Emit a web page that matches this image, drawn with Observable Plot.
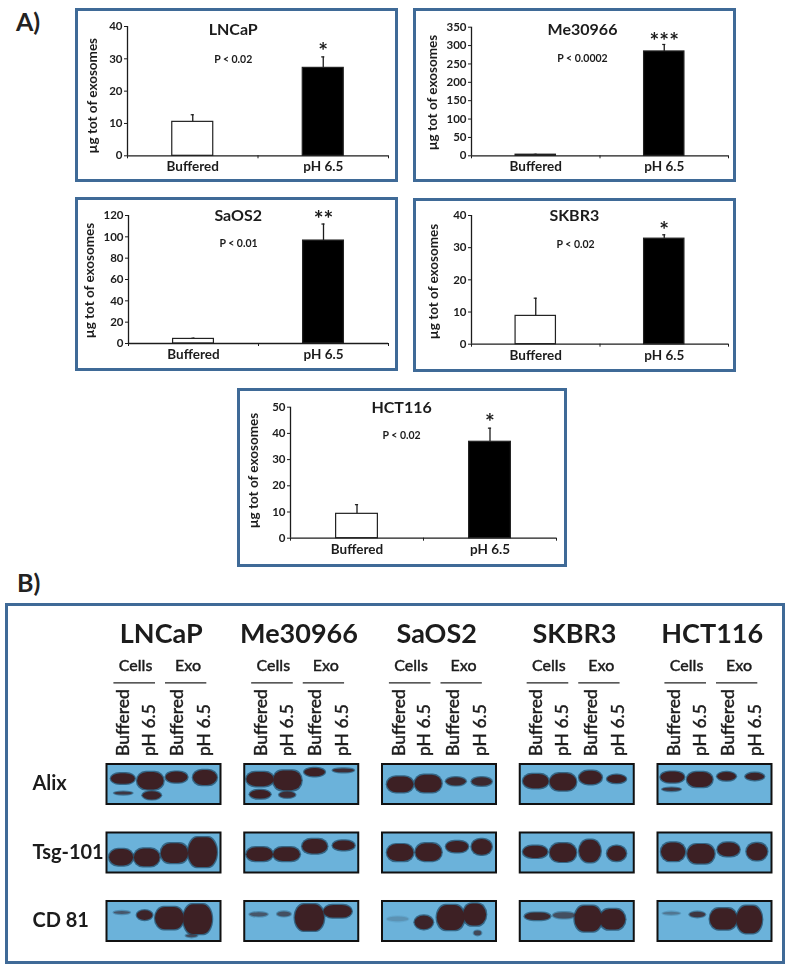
<!DOCTYPE html>
<html>
<head>
<meta charset="utf-8">
<script src="https://cdn.jsdelivr.net/npm/d3@7"></script>
<script src="https://cdn.jsdelivr.net/npm/@observablehq/plot@0.6"></script>
<style>
  html, body { margin: 0; padding: 0; background: #fff; }
  #page { position: relative; width: 794px; height: 970px; overflow: hidden; font-family: Lato, "Open Sans", sans-serif; color: #1c1c1c; }
  #page svg { position: absolute; background: transparent; overflow: visible; filter: blur(0.3px); }
  .box { position: absolute; box-sizing: border-box; border: 3px solid #3f6a97; }
  .tag { position: absolute; font: 700 25px Lato, sans-serif; color: #222; }
  g[aria-label="band"] { filter: blur(1.1px); }
  g[aria-label="halo"] { filter: blur(2px); }
</style>
</head>
<body>
<div id="page"></div>
<script>
// ---------- Panel A data ----------
const conditions = ["Buffered", "pH 6.5"];
const barCells = ["LNCaP", "Me30966", "SaOS2", "SKBR3", "HCT116"];
const bufferedMeans = [10.5, 3, 4.3, 8.8, 9.3];
const bufferedTops = [12.7, 4, 5, 14.3, 12.8];
const ph65Means = [27.2, 284, 96.5, 32.8, 36.8];
const ph65Tops = [30.6, 303, 112, 34, 42];
const yMaxes = [40, 350, 120, 40, 50];
const yTicks = [
  [0, 10, 20, 30, 40],
  [0, 50, 100, 150, 200, 250, 300, 350],
  [0, 20, 40, 60, 80, 100, 120],
  [0, 10, 20, 30, 40],
  [0, 10, 20, 30, 40, 50]
];
const pLabels = ["P < 0.02", "P < 0.0002", "P < 0.01", "P < 0.02", "P < 0.02"];
const stars = ["*", "***", "**", "*", "*"];
const yTitle = "µg tot of exosomes";

// ---------- Panel B data ----------
const blotCells = ["LNCaP", "Me30966", "SaOS2", "SKBR3", "HCT116"];
const targets = ["Alix", "Tsg-101", "CD 81"];
const groups = ["Cells", "Exo"];
const lanes = ["Buffered", "pH 6.5", "Buffered", "pH 6.5"];
// bands: [lane from, lane to, top, bottom, density]  (lanes 0-4, height 0-1 of the film)
const lncapBands = [
  [[.18,1.0,.25,.5,1],[1.1,2.01,.22,.64,1],[2.1,2.85,.21,.47,1],[3.06,3.88,.17,.53,1],[.29,.92,.71,.77,.75],[1.29,1.92,.7,.89,.95]],
  [[.12,.94,.43,.83,1],[.99,1.87,.42,.85,1],[1.93,2.87,.29,.77,1],[2.89,3.88,.14,.87,1]],
  [[.28,.83,.27,.33,.5],[1.09,1.62,.25,.48,.95],[1.73,2.72,.17,.71,1],[2.72,3.71,.1,.83,1],[2.81,3.19,.85,.91,.6]]
];
const meBands = [
  [[.1,1.04,.22,.56,1],[1.04,2.02,.18,.66,1],[2.13,2.84,.12,.31,1],[3.13,3.86,.13,.21,.85],[.22,.93,.67,.87,1],[1.25,1.8,.71,.85,.85]],
  [[.1,1.01,.39,.72,1],[1.04,1.96,.39,.72,1],[2.06,2.92,.18,.53,1],[3.13,3.88,.22,.45,1]],
  [[.21,.83,.3,.39,.5],[1.18,1.64,.28,.39,.55],[1.8,2.81,.1,.75,1],[2.81,3.78,.12,.42,1]]
];
const saosBands = [
  [[.2,1.11,.33,.71,1],[1.17,2.1,.29,.71,1],[2.27,2.95,.35,.54,.9],[3.17,3.86,.35,.55,.9]],
  [[.2,1.11,.31,.72,1],[1.2,2.1,.29,.72,1],[2.27,3.03,.23,.5,1],[3.17,3.86,.18,.56,1]],
  [[.2,.93,.41,.51,.15],[1.17,1.8,.38,.71,.95],[1.95,2.9,.12,.73,1],[2.87,3.66,.08,.62,1],[3.25,3.49,.76,.86,.6]]
];
const skbrBands = [
  [[.14,1.02,.27,.61,1],[1.08,1.99,.25,.67,1],[2.11,2.89,.19,.51,1],[3.09,3.74,.29,.48,1]],
  [[.14,.98,.35,.64,1],[1.08,1.99,.29,.74,1],[2.11,2.85,.2,.75,1],[3.09,3.74,.35,.72,1]],
  [[.2,1.08,.31,.48,.9],[1.19,1.95,.3,.44,.55],[1.95,2.89,.14,.77,1],[2.83,3.71,.22,.72,1]]
];
const hctBands = [
  [[.13,.95,.21,.47,1],[1.06,1.94,.22,.58,1],[2.12,2.76,.22,.42,1],[3.11,3.75,.24,.41,.95],[.19,.83,.61,.68,.8]],
  [[.15,.98,.27,.72,1],[1.07,2.01,.31,.78,1],[2.13,2.89,.27,.6,1],[3.15,3.86,.28,.7,1]],
  [[.21,.8,.29,.35,.3],[1.15,1.68,.29,.41,.75],[1.86,2.8,.2,.72,1],[2.8,3.68,.14,.81,1]]
];
const blotBands = [lncapBands, meBands, saosBands, skbrBands, hctBands];

// ---------- Layout (separate from the data) ----------
const boxes = [ // left, top, width, height of each framed panel
  [75, 8, 323, 174], [413, 8, 323, 174], [75, 197, 323, 174], [413, 198, 323, 174], [237, 388, 330, 179]
];
const axes = [ // left, right, top, bottom of each plot area
  [127, 388, 26, 155.3], [471, 728, 26.7, 155.3], [128, 388, 215, 343], [471, 728, 215, 343.7], [290, 556, 406.7, 537.7]
];
const titleAt = [[.81, 39.1], [.864, 344], [.844, 120], [.80, 39.8], [.835, 49.8]];
const pAt = [[.81, 29.7], [.864, 265.6], [.846, 94], [.81, 31], [.835, 39.2]];
const starAt = [[1.5, 35], [1.5, 335], [1.5, 125], [1.5, 38], [1.5, 47.6]];
const yTitleAt = [[-.27, 18.6], [-.306, 172], [-.298, 59], [-.295, 19.5], [-.278, 25.8]];
const barHalf = 0.157;
const FONT = "Lato, 'Open Sans', sans-serif";
const INK = "#1c1c1c";

const page = document.getElementById("page");
function addBox(l, t, w, h) {
  const d = document.createElement("div");
  d.className = "box";
  Object.assign(d.style, {left: l + "px", top: t + "px", width: w + "px", height: h + "px"});
  page.appendChild(d);
}
function addTag(text, l, t) {
  const d = document.createElement("div");
  d.className = "tag";
  d.textContent = text;
  Object.assign(d.style, {left: l + "px", top: t + "px"});
  page.appendChild(d);
}
addTag("A)", 16, 6);
addTag("B)", 17, 567);

// ---------- Panel A ----------
barCells.forEach((cell, i) => {
  const [bl, bt, bw, bh] = boxes[i];
  const [al, ar, at, ab] = axes[i];
  addBox(bl, bt, bw, bh);
  const rows = conditions.map((c, k) => ({
    condition: c,
    center: k + 0.5,
    mean: k ? ph65Means[i] : bufferedMeans[i],
    top: k ? ph65Tops[i] : bufferedTops[i]
  }));
  const chart = Plot.plot({
    width: bw, height: bh,
    marginLeft: al - bl, marginRight: bl + bw - ar,
    marginTop: at - bt, marginBottom: bt + bh - ab,
    style: {fontFamily: FONT, color: INK, background: "transparent"},
    x: {domain: [0, 2], axis: null},
    y: {domain: [0, yMaxes[i]], axis: null},
    marks: [
      Plot.ruleX(rows, {x: "center", y1: "mean", y2: "top", stroke: INK, strokeWidth: 1.3}),
      Plot.ruleY(rows, {y: "top", x1: d => d.center - 0.012, x2: d => d.center + 0.012, stroke: INK, strokeWidth: 1.2}),
      Plot.rectY(rows, {
        x1: d => d.center - barHalf, x2: d => d.center + barHalf, y1: 0, y2: "mean",
        fill: d => d.center > 1 ? "#000" : "#fff", stroke: "#222", strokeWidth: 1.2
      }),
      Plot.ruleX([0], {stroke: INK, strokeWidth: 1.3}),
      Plot.ruleY([0], {stroke: INK, strokeWidth: 1.3}),
      Plot.axisY({ticks: yTicks[i], tickSize: 3, tickPadding: 2, label: null, stroke: INK, fontSize: 11.5, fontWeight: 700, fontFamily: FONT, tickFormat: d => d}),
      Plot.axisX({ticks: [0, 1, 2], tickSize: 3, tickFormat: () => "", label: null, stroke: INK}),
      Plot.axisX({ticks: rows.map(d => d.center), tickSize: 0, tickPadding: 6, tickFormat: d => conditions[d - 0.5], label: null, fontSize: 13.5, fontWeight: 700, fontFamily: FONT}),
      Plot.text([cell], {x: titleAt[i][0], y: titleAt[i][1], text: d => d, fontSize: 16, fontWeight: 700, fontFamily: FONT, fill: INK}),
      Plot.text([pLabels[i]], {x: pAt[i][0], y: pAt[i][1], text: d => d, fontSize: 10.5, fontWeight: 700, fontFamily: FONT, fill: INK}),
      Plot.text([stars[i]], {x: starAt[i][0], y: starAt[i][1], text: d => d, fontSize: 23, fontWeight: 700, fontFamily: FONT, fill: INK, lineAnchor: "top"}),
      Plot.text([yTitle], {x: yTitleAt[i][0], y: yTitleAt[i][1], text: d => d, rotate: -90, fontSize: 13.5, fontWeight: 700, fontFamily: FONT, fill: INK})
    ]
  });
  chart.style.left = bl + "px";
  chart.style.top = bt + "px";
  page.appendChild(chart);
});

// ---------- Panel B ----------
addBox(5, 603, 780, 361);
const bandRows = blotCells.flatMap((cell, c) => targets.flatMap((target, t) =>
  blotBands[c][t].map(([x1, x2, y1, y2, a]) => ({cell, target, x1, x2, y1, y2, a}))));
const topRow = blotCells.map(cell => ({cell, target: targets[0]}));
const laneRows = topRow.flatMap(r => lanes.map((lane, k) => ({...r, lane, k})));
const groupRows = topRow.flatMap(r => groups.map((group, k) => ({...r, group, k})));
const laneX = [0.6, 1.5, 2.5, 3.45];
const groupSpan = [[.26, 1.72], [2.07, 3.52]];
const groupX = [1.02, 2.86];
const textB = {fontFamily: FONT, fill: INK};
const semi = {stroke: INK, strokeWidth: 0.35};
const bandGeom = {fx: "cell", fy: "target", x1: "x1", x2: "x2", y1: "y1", y2: "y2"};

const blot = Plot.plot({
  width: 794, height: 365,
  marginLeft: 106, marginRight: 23, marginTop: 163.5, marginBottom: 24.5,
  style: {fontFamily: FONT, color: INK, background: "transparent"},
  fx: {domain: blotCells, axis: null, paddingInner: 0.1724, paddingOuter: 0, round: false},
  fy: {domain: targets, axis: null, paddingInner: 0.416, paddingOuter: 0, round: false},
  x: {domain: [0, 4], axis: null},
  y: {domain: [1, 0], axis: null},
  opacity: {type: "identity"},
  marks: [
    Plot.frame({fill: "#6bb2da"}),
    Plot.rect(bandRows, {...bandGeom, inset: -1.5, fill: "#1d4560", fillOpacity: d => d.a * 0.7, rx: 10, ry: 100, ariaLabel: "halo"}),
    Plot.rect(bandRows, {...bandGeom, inset: -0.3, fill: "#3d2024", fillOpacity: "a", rx: 10, ry: 100, ariaLabel: "band"}),
    Plot.frame({stroke: "#111", strokeWidth: 2}),
    Plot.text(topRow, {fx: "cell", fy: "target", x: 1.92, y: -3.25, text: "cell", fontSize: 27, fontWeight: 700, ...textB}),
    Plot.text(groupRows, {fx: "cell", fy: "target", x: d => groupX[d.k], y: -2.45, text: "group", fontSize: 16, fontWeight: 500, ...textB, ...semi}),
    Plot.ruleY(groupRows, {fx: "cell", fy: "target", y: -2.03, x1: d => groupSpan[d.k][0], x2: d => groupSpan[d.k][1], stroke: "#222", strokeWidth: 1.2}),
    Plot.text(laneRows, {fx: "cell", fy: "target", x: d => laneX[d.k], y: -0.2, text: "lane", rotate: -90, textAnchor: "start", fontSize: 17.5, fontWeight: 500, ...textB, ...semi}),
    Plot.text(targets.map(target => ({target, cell: blotCells[0]})), {fx: "cell", fy: "target", x: -2.6, y: 0.5, text: "target", textAnchor: "start", fontSize: 20, fontWeight: 700, ...textB})
  ]
});
blot.style.left = "0px";
blot.style.top = "600px";
page.appendChild(blot);
</script>
</body>
</html>
